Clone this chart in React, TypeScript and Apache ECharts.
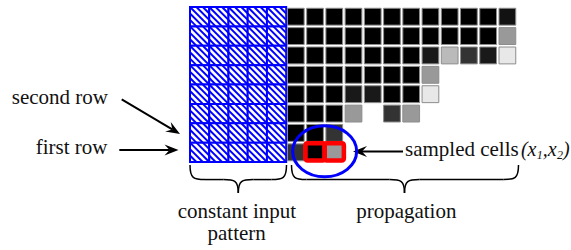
import React, { useEffect, useRef } from "react";
import * as echarts from "echarts";

// ---- data ----
const inputColumns = [0, 1, 2, 3, 4];
const rowIndices = [0, 1, 2, 3, 4, 5, 6, 7];
// darkness of each propagated cell (1 = black), null = empty; row 0 is the top row
const propagationRows: (number | null)[][] = [
  [1, 1, 1, 1, 1, 1, 1, 1, 1, 1, 1, 0.93],
  [1, 1, 1, 1, 1, 1, 1, 1, 1, 1, 1, 0.4],
  [1, 1, 1, 1, 1, 1, 1, 0.9, 0.27, 0.8, 0.9, 0.09],
  [1, 1, 1, 1, 1, 1, 1, 0.4],
  [1, 1, 1, 0.9, 0.9, 1, 1, 0.09],
  [1, 1, 1, 0.4, null, 0.8, 0.4],
  [1, 1, 0.8],
  [0.8, 1, 0.4],
];
// sampled cells (column, row) in the whole grid
const sampledCells = [
  [6, 7],
  [7, 7],
];
const labelSecondRow = "second row";
const labelFirstRow = "first row";
const labelSampled = "sampled cells";
const labelConstant1 = "constant input";
const labelConstant2 = "pattern";
const labelPropagation = "propagation";

const FONT = "'Liberation Serif', 'DejaVu Serif', serif";
const BLUE = "#0000ff";

function arrow(x1: number, y1: number, x2: number, y2: number) {
  const len = Math.hypot(x2 - x1, y2 - y1);
  const dx = (x2 - x1) / len;
  const dy = (y2 - y1) / len;
  const nx = -dy;
  const ny = dx;
  const L = 14;
  const W = 5.5;
  const N = 9;
  return [
    {
      type: "line",
      shape: { x1, y1, x2: x2 - dx * N, y2: y2 - dy * N },
      style: { stroke: "#000", lineWidth: 2 },
    },
    {
      type: "polygon",
      shape: {
        points: [
          [x2, y2],
          [x2 - dx * L + nx * W, y2 - dy * L + ny * W],
          [x2 - dx * N, y2 - dy * N],
          [x2 - dx * L - nx * W, y2 - dy * L - ny * W],
        ],
      },
      style: { fill: "#000" },
    },
  ];
}

function brace(x0: number, x1: number, xm: number, y0: number, h: number) {
  const ym = y0 + h * 0.52;
  const r = 15;
  const st = { stroke: "#000", lineWidth: 1.5, fill: null as any };
  return [
    {
      type: "bezierCurve",
      shape: { x1: x0, y1: y0, cpx1: x0, cpy1: ym - 1, cpx2: x0 + r * 0.25, cpy2: ym, x2: x0 + r, y2: ym },
      style: st,
    },
    { type: "line", shape: { x1: x0 + r, y1: ym, x2: xm - r, y2: ym }, style: st },
    {
      type: "bezierCurve",
      shape: { x1: xm - r, y1: ym, cpx1: xm - r * 0.25, cpy1: ym, cpx2: xm, cpy2: ym + 1, x2: xm, y2: y0 + h },
      style: st,
    },
    {
      type: "bezierCurve",
      shape: { x1: xm, y1: y0 + h, cpx1: xm, cpy1: ym + 1, cpx2: xm + r * 0.25, cpy2: ym, x2: xm + r, y2: ym },
      style: st,
    },
    { type: "line", shape: { x1: xm + r, y1: ym, x2: x1 - r, y2: ym }, style: st },
    {
      type: "bezierCurve",
      shape: { x1: x1 - r, y1: ym, cpx1: x1 - r * 0.25, cpy1: ym, cpx2: x1, cpy2: ym - 1, x2: x1, y2: y0 },
      style: st,
    },
  ];
}

function txt(text: string, x: number, baseline: number, size: number, align: string, italic = false) {
  return {
    type: "text",
    x,
    y: baseline - 0.34 * size,
    style: {
      text,
      fontFamily: FONT,
      fontSize: size,
      fontStyle: italic ? "italic" : "normal",
      fill: "#111",
      align,
      verticalAlign: "middle",
      textAlign: align,
      textVerticalAlign: "middle",
    },
  };
}

export default function App() {
  const ref = useRef<HTMLDivElement>(null);
  useEffect(() => {
    if (!ref.current) return;
    const chart = echarts.init(ref.current, undefined, { renderer: "svg" });

    const nInput = inputColumns.length;
    const inputData = rowIndices.flatMap((r) => inputColumns.map((c) => [c, r]));
    const propData: number[][] = [];
    propagationRows.forEach((row, r) =>
      row.forEach((v, c) => {
        if (v != null) propData.push([c + nInput, r, v]);
      })
    );

    const option: any = {
      animation: false,
      backgroundColor: "#fff",
      grid: { left: 190, top: 7, width: 327, height: 155 },
      xAxis: { type: "value", min: 0, max: 17, show: false },
      yAxis: { type: "value", min: 0, max: 8, inverse: true, show: false },
      series: [
        {
          type: "custom",
          data: inputData,
          renderItem: (params: any, api: any) => {
            const p = api.coord([api.value(0), api.value(1)]);
            const s = api.size([1, 1]);
            const w = Math.abs(s[0]);
            const h = Math.abs(s[1]);
            const children: any[] = [
              { type: "rect", shape: { x: p[0], y: p[1], width: w, height: h }, style: { fill: "#fff" } },
            ];
            const offs = [-2 / 3, -1 / 3, 0, 1 / 3, 2 / 3];
            offs.forEach((o) => {
              let a, b;
              if (o >= 0) {
                a = [p[0] + o * w, p[1]];
                b = [p[0] + w, p[1] + (1 - o) * h];
              } else {
                a = [p[0], p[1] - o * h];
                b = [p[0] + (1 + o) * w, p[1] + h];
              }
              children.push({
                type: "line",
                shape: { x1: a[0], y1: a[1], x2: b[0], y2: b[1] },
                style: { stroke: BLUE, lineWidth: 2 },
              });
            });
            children.push({
              type: "rect",
              shape: { x: p[0], y: p[1], width: w, height: h },
              style: { fill: null, stroke: BLUE, lineWidth: 2 },
            });
            return { type: "group", children };
          },
        },
        {
          type: "custom",
          data: propData,
          renderItem: (params: any, api: any) => {
            const p = api.coord([api.value(0), api.value(1)]);
            const s = api.size([1, 1]);
            const w = Math.abs(s[0]);
            const h = Math.abs(s[1]);
            const g = Math.round(255 * (1 - api.value(2)));
            return {
              type: "rect",
              shape: { x: p[0] + 1.25, y: p[1] + 1.25, width: w - 2.5, height: h - 2.5 },
              style: { fill: `rgb(${g},${g},${g})`, stroke: "#8c8c8c", lineWidth: 1 },
            };
          },
        },
        {
          type: "custom",
          data: sampledCells,
          renderItem: (params: any, api: any) => {
            const p = api.coord([api.value(0), api.value(1)]);
            const s = api.size([1, 1]);
            const w = Math.abs(s[0]);
            const h = Math.abs(s[1]);
            const children: any[] = [
              {
                type: "rect",
                shape: { x: p[0], y: p[1] + 0.5, width: w, height: h - 2, r: 2 },
                style: { fill: null, stroke: "#ff0000", lineWidth: 4.5 },
              },
            ];
            if (params.dataIndex === 0) {
              children.unshift({
                type: "ellipse",
                shape: { cx: p[0] + w, cy: p[1] + h * 0.45, rx: 32, ry: 25.5 },
                style: { fill: null, stroke: BLUE, lineWidth: 3 },
              });
            }
            return { type: "group", children };
          },
        },
      ],
      graphic: {
        elements: [
          ...arrow(121.7, 99.3, 180, 134),
          ...arrow(119.3, 150, 178.5, 150),
          ...arrow(403, 151.5, 353, 151.5),
          ...brace(190, 286.5, 238.3, 165, 28),
          ...brace(291.5, 518.5, 404.5, 165, 28),
          txt(labelSecondRow, 108, 104, 21, "right"),
          txt(labelFirstRow, 107.5, 154.5, 21, "right"),
          txt(labelSampled, 405, 155.8, 21, "left"),
          txt("(", 521, 155.8, 20, "left", true),
          txt("x", 527.5, 155.8, 20, "left", true),
          txt("1", 536.8, 159.5, 12, "left", true),
          txt(",", 542.8, 155.8, 20, "left", true),
          txt("x", 547.8, 155.8, 20, "left", true),
          txt("2", 556.9, 159.5, 12, "left", true),
          txt(")", 563, 155.8, 20, "left", true),
          txt(labelConstant1, 237, 218.3, 21, "center"),
          txt(labelConstant2, 236.7, 240, 21, "center"),
          txt(labelPropagation, 406.3, 218.3, 21, "center"),
        ],
      },
    };
    chart.setOption(option);
    return () => chart.dispose();
  }, []);
  return (
    <div
      ref={ref}
      style={{ position: "fixed", left: 0, top: 0, width: 571, height: 250, background: "#fff" }}
    />
  );
}
